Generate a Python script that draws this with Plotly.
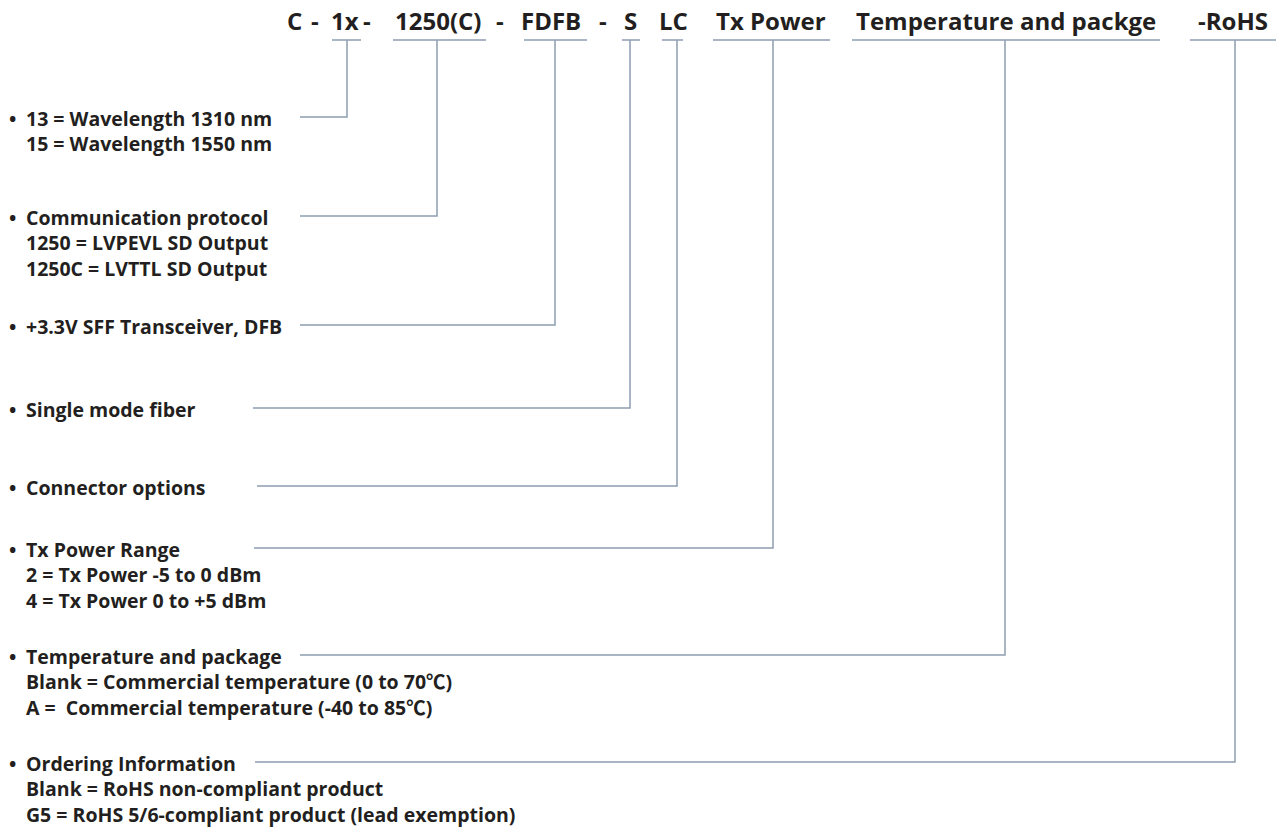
import plotly.graph_objects as go

# ---- content ----
header_tokens = ["C", "-", "1x", "-", "1250(C)", "-", "FDFB", "-", "S", "LC",
                 "Tx Power", "Temperature and packge", "-RoHS"]
header_x = [294, 315, 345, 367, 438, 500, 551, 603, 630, 673, 771, 1006, 1233]

# segments under header codes
code_underline_x0 = [332, 393, 524, 622, 662, 713, 852, 1190]
code_underline_x1 = [361, 486, 587, 640, 683, 830, 1160, 1276]
code_stem_x = [347, 437, 555, 630, 677, 773, 1005, 1235]

item_titles = [
    "13 = Wavelength 1310 nm",
    "Communication protocol",
    "+3.3V SFF Transceiver, DFB",
    "Single mode fiber",
    "Connector options",
    "Tx Power Range",
    "Temperature and package",
    "Ordering Information",
]
item_details = [
    ["15 = Wavelength 1550 nm"],
    ["1250 = LVPEVL SD Output", "1250C = LVTTL SD Output"],
    [],
    [],
    [],
    ["2 = Tx Power -5 to 0 dBm", "4 = Tx Power 0 to +5 dBm"],
    ["Blank = Commercial temperature (0 to 70\u2103)", "A =  Commercial temperature (-40 to 85\u2103)"],
    ["Blank = RoHS non-compliant product", "G5 = RoHS 5/6-compliant product (lead exemption)"],
]
item_y = [117, 216, 325, 408, 486, 548, 655, 762]
leader_x0 = [300, 300, 300, 253, 257, 254, 300, 255]

# ---- styles ----
W, H = 1278, 827
TEXT = "#231f20"
LINE = "#8d9db0"
FONT = "Open Sans, Noto Sans CJK SC, sans-serif"
header_y = 20
underline_y = 40
line_gap = 25.5
text_x = 24
bullet_x = 7
left_size = 19.5
head_size = 24

fig = go.Figure()

for x0, x1, sx, iy, lx in zip(code_underline_x0, code_underline_x1, code_stem_x, item_y, leader_x0):
    fig.add_trace(go.Scatter(x=[x0, x1], y=[underline_y, underline_y], mode="lines",
                             line=dict(color=LINE, width=1.5), hoverinfo="skip", showlegend=False))
    fig.add_trace(go.Scatter(x=[sx, sx, lx], y=[underline_y, iy, iy], mode="lines",
                             line=dict(color=LINE, width=1.5), hoverinfo="skip", showlegend=False))

ann = []
for t, x in zip(header_tokens, header_x):
    ann.append(dict(x=x, y=header_y, text="<b>%s</b>" % t, xanchor="center", yanchor="middle",
                    showarrow=False, font=dict(family=FONT, size=head_size, color=TEXT)))

for title, details, y in zip(item_titles, item_details, item_y):
    ann.append(dict(x=bullet_x, y=y + 1, text="<b>\u2022</b>", xanchor="left", yanchor="middle",
                    showarrow=False, font=dict(family=FONT, size=left_size, color=TEXT)))
    ann.append(dict(x=text_x, y=y + 1, text="<b>%s</b>" % title, xanchor="left", yanchor="middle",
                    showarrow=False, font=dict(family=FONT, size=left_size, color=TEXT)))
    for k, d in enumerate(details):
        ann.append(dict(x=text_x, y=y + 1 + line_gap * (k + 1), text="<b>%s</b>" % d,
                        xanchor="left", yanchor="middle", showarrow=False,
                        font=dict(family=FONT, size=left_size, color=TEXT)))

fig.update_layout(
    width=W, height=H,
    margin=dict(l=0, r=0, t=0, b=0),
    paper_bgcolor="white", plot_bgcolor="white",
    xaxis=dict(range=[0, W], visible=False, fixedrange=True),
    yaxis=dict(range=[H, 0], visible=False, fixedrange=True),
    annotations=ann,
    showlegend=False,
)

fig.write_html("out.html", config={"displayModeBar": False},
               post_script="document.body.style.margin='0px';document.body.style.overflow='hidden';")
